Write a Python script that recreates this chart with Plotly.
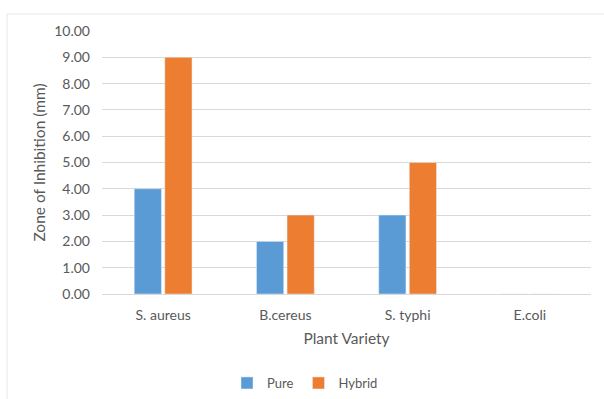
import plotly.graph_objects as go

categories = ["S. aureus", "B.cereus", "S. typhi", "E.coli"]
pure = [4, 2, 3, 0]
hybrid = [9, 3, 5, 0]

W, H = 604, 399
L, R, T, B = 102, 13, 31, 105
pw = W - L - R
ph = H - T - B

font = "Lato, 'Open Sans', sans-serif"
fig = go.Figure()
fig.add_trace(go.Bar(name="Pure", x=categories, y=pure, marker_color="#5B9BD5"))
fig.add_trace(go.Bar(name="Hybrid", x=categories, y=hybrid, marker_color="#ED7D31"))

def px_x(x):
    return (x - L) / pw

def px_y(y):
    return 1 - (y - T) / ph

fig.update_layout(
    width=W, height=H,
    margin=dict(l=L, r=R, t=T, b=B),
    paper_bgcolor="white", plot_bgcolor="white",
    font=dict(family=font, size=14, color="#595959"),
    barmode="group", bargap=0.5, bargroupgap=0.11,
    showlegend=True,
    legend=dict(orientation="h", x=305 / W, xref="container", xanchor="center",
                y=1 - 383 / H, yref="container", yanchor="middle",
                font=dict(size=13, color="#595959"), itemwidth=30, tracegroupgap=0),
    xaxis=dict(
        title=dict(text="Plant Variety", font=dict(size=15.5, color="#595959"), standoff=11),
        showgrid=False, showline=False, ticks="", tickfont=dict(size=14),
        automargin=False, ticklabelstandoff=11,
    ),
    yaxis=dict(
        title=dict(text="Zone of Inhibition (mm)", font=dict(size=15.5, color="#595959"), standoff=4),
        range=[0, 10], dtick=1, tickformat=".2f",
        showgrid=True, gridcolor="#d9d9d9", gridwidth=1,
        zeroline=True, zerolinecolor="#d9d9d9", zerolinewidth=1,
        showline=False, ticks="", tickfont=dict(size=14),
        automargin=False, ticklabelstandoff=11,
    ),
    shapes=[
        dict(type="line", xref="paper", yref="paper", x0=px_x(7), x1=px_x(620), y0=px_y(14), y1=px_y(14),
             line=dict(color="#e6e6e6", width=1)),
        dict(type="line", xref="paper", yref="paper", x0=px_x(7), x1=px_x(7), y0=px_y(14), y1=px_y(420),
             line=dict(color="#e6e6e6", width=1)),
    ],
)

fig.write_html("out.html", config={"displayModeBar": False},
               post_script="document.body.style.margin='0';")
